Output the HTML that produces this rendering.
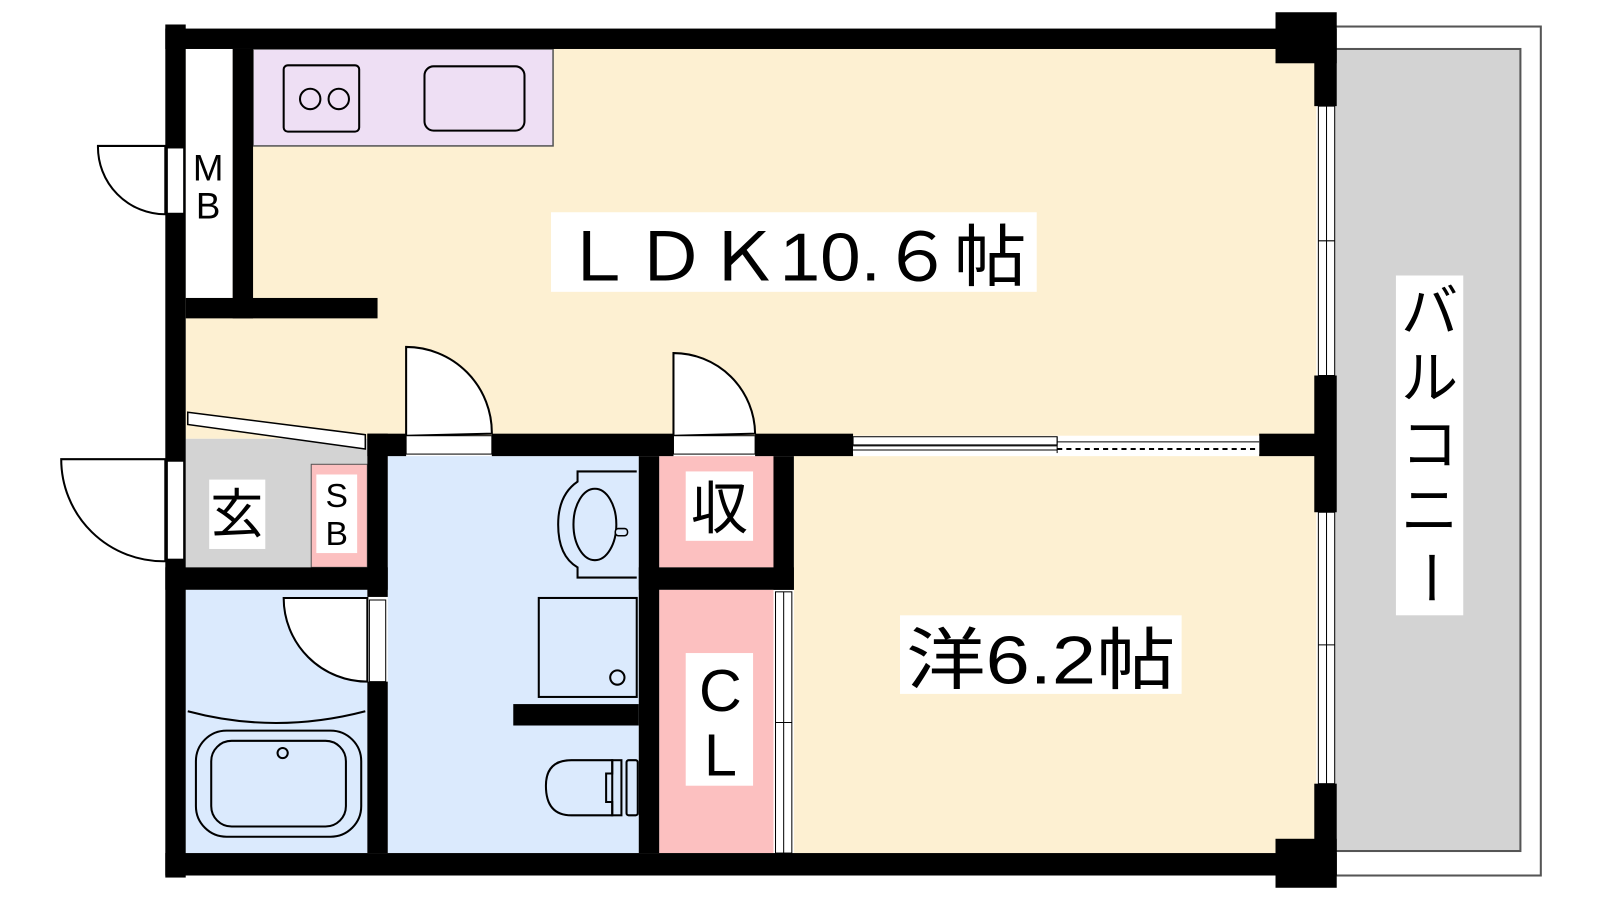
<!DOCTYPE html>
<html><head><meta charset="utf-8"><style>
html,body{margin:0;padding:0;background:#fff;width:1600px;height:900px;overflow:hidden}
svg{display:block}
text{font-family:"Liberation Sans","Noto Sans CJK JP",sans-serif;fill:#000}
</style></head><body>
<svg width="1600" height="900" viewBox="0 0 1568 882" preserveAspectRatio="none">
<!-- balcony -->
<rect x="1300" y="26" width="210" height="832" fill="#fff" stroke="#555" stroke-width="2"/>
<rect x="1300" y="48" width="190" height="786" fill="#d3d3d3" stroke="#555" stroke-width="2"/>
<!-- floors -->
<rect x="182" y="48" width="1108" height="382" fill="#fdf0d2"/>
<rect x="778" y="447" width="512" height="389" fill="#fdf0d2"/>
<rect x="182" y="48" width="46" height="244" fill="#fff"/>
<rect x="248" y="48" width="294" height="95" fill="#eedff4" stroke="#555" stroke-width="1.5"/>
<rect x="182" y="430" width="178" height="126" fill="#d3d3d3"/>
<rect x="305" y="455" width="55" height="101" fill="#fcc0c0" stroke="#555" stroke-width="1"/>
<rect x="182" y="578" width="178" height="258" fill="#dbeafd"/>
<rect x="380" y="447" width="246" height="389" fill="#dbeafd"/>
<rect x="646" y="447" width="112" height="109" fill="#fcc0c0"/>
<rect x="646" y="578" width="112" height="258" fill="#fcc0c0"/>
<!-- kitchen fixtures -->
<rect x="278" y="64" width="74" height="65" rx="4" fill="none" stroke="#000" stroke-width="2"/>
<circle cx="304" cy="97" r="10" fill="none" stroke="#000" stroke-width="2"/>
<circle cx="332" cy="97" r="10" fill="none" stroke="#000" stroke-width="2"/>
<rect x="416" y="65" width="98" height="63" rx="9" fill="none" stroke="#000" stroke-width="2"/>
<!-- walls -->
<g fill="#000">
<rect x="162" y="24" width="20" height="836"/>
<rect x="162" y="28" width="1130" height="20"/>
<rect x="1250" y="12" width="60" height="50"/>
<rect x="1288" y="28" width="22" height="76"/>
<rect x="1288" y="368" width="22" height="134"/>
<rect x="1288" y="768" width="22" height="90"/>
<rect x="1250" y="822" width="60" height="48"/>
<rect x="162" y="836" width="1148" height="22"/>
<rect x="228" y="48" width="20" height="264"/>
<rect x="182" y="292" width="188" height="20"/>
<rect x="360" y="425" width="38" height="22"/>
<rect x="482" y="425" width="178" height="22"/>
<rect x="740" y="425" width="96" height="22"/>
<rect x="1234" y="425" width="56" height="22"/>
<rect x="360" y="425" width="20" height="160"/>
<rect x="360" y="668" width="20" height="168"/>
<rect x="162" y="556" width="218" height="22"/>
<rect x="626" y="447" width="20" height="389"/>
<rect x="758" y="447" width="20" height="131"/>
<rect x="626" y="556" width="152" height="22"/>
<rect x="503" y="690" width="123" height="21"/>
</g>
<!-- windows right -->
<g fill="#fff" stroke="#000" stroke-width="1">
<rect x="1292" y="104" width="16" height="264"/>
<rect x="1292" y="502" width="16" height="266"/>
<rect x="760" y="580" width="16" height="256"/>
</g>
<g stroke="#000" stroke-width="1">
<line x1="1300" y1="104" x2="1300" y2="368"/><line x1="1292" y1="236" x2="1308" y2="236"/>
<line x1="1300" y1="502" x2="1300" y2="768"/><line x1="1292" y1="632" x2="1308" y2="632"/>
<line x1="768" y1="580" x2="768" y2="836"/><line x1="760" y1="708" x2="776" y2="708"/>
</g>
<!-- sliding door -->
<rect x="836" y="427" width="398" height="18" fill="#fff"/>
<rect x="836" y="428" width="200" height="8" fill="#fff" stroke="#000" stroke-width="1"/>
<line x1="836" y1="437" x2="1036" y2="437" stroke="#000" stroke-width="1"/>
<line x1="836" y1="441" x2="1036" y2="441" stroke="#000" stroke-width="1"/>
<line x1="1036" y1="433" x2="1234" y2="433" stroke="#000" stroke-width="1"/>
<line x1="1036" y1="440" x2="1234" y2="440" stroke="#000" stroke-width="2" stroke-dasharray="5,4"/>
<line x1="1036" y1="428" x2="1036" y2="444" stroke="#000" stroke-width="1"/>
<!-- doors -->
<g fill="#fff" stroke="#000" stroke-width="2">
<path d="M398 427 V340 A84 84 0 0 1 482 425 Z"/>
<rect x="398" y="427" width="84" height="18" stroke-width="1"/>
<path d="M660 427 V346 A80 80 0 0 1 740 425 Z"/>
<rect x="660" y="427" width="80" height="18" stroke-width="1"/>
<path d="M162 143 H96 A66 66 0 0 0 162 210 Z"/>
<rect x="164" y="145" width="16" height="64" stroke-width="1"/>
<path d="M162 450 H60 A100 100 0 0 0 162 550 Z"/>
<rect x="164" y="452" width="16" height="96" stroke-width="1"/>
<path d="M360 586 H278 A82 82 0 0 0 360 668 Z"/>
<rect x="362" y="588" width="16" height="80" stroke-width="1"/>
<polygon points="184,404 358,426 358,440 184,416" stroke-width="1.5"/>
</g>
<!-- bath -->
<path d="M184 697 Q270 720 358 697" fill="none" stroke="#000" stroke-width="2"/>
<rect x="192" y="716" width="162" height="104" rx="30" fill="none" stroke="#000" stroke-width="2"/>
<rect x="207" y="726" width="132" height="84" rx="20" fill="none" stroke="#000" stroke-width="2"/>
<circle cx="277" cy="738" r="5" fill="none" stroke="#000" stroke-width="2"/>
<!-- wash basin -->
<path d="M624 462 H566 V472 Q547 485 547 514 Q547 545 566 556 V566 H624" fill="none" stroke="#000" stroke-width="2"/>
<ellipse cx="583" cy="514" rx="21" ry="35" fill="none" stroke="#000" stroke-width="2"/>
<rect x="603" y="518" width="12" height="7" rx="3" fill="#dbeafd" stroke="#000" stroke-width="1.5"/>
<!-- washer -->
<rect x="528" y="586" width="96" height="97" fill="none" stroke="#000" stroke-width="2"/>
<circle cx="605" cy="664" r="7" fill="none" stroke="#000" stroke-width="2"/>
<!-- toilet -->
<path d="M600 745 H560 Q535 745 535 770 Q535 799 560 799 H600 V786 H594 V758 H600 Z" fill="none" stroke="#000" stroke-width="2"/>
<rect x="600" y="745" width="9" height="54" fill="none" stroke="#000" stroke-width="2"/>
<rect x="614" y="745" width="11" height="54" rx="2" fill="none" stroke="#000" stroke-width="2"/>
<!-- labels -->
<rect x="540" y="208" width="476" height="78" fill="#fff"/>
<text x="778" y="275" font-size="66" text-anchor="middle" textLength="456" lengthAdjust="spacingAndGlyphs">ＬＤＫ10.６帖</text>
<rect x="882" y="603" width="276" height="77" fill="#fff"/>
<text x="1020" y="670" font-size="66" text-anchor="middle" textLength="264" lengthAdjust="spacingAndGlyphs">洋6.2帖</text>
<rect x="1368" y="270" width="66" height="333" fill="#fff"/>
<g font-size="56" text-anchor="middle">
<text x="1401" y="325">バ</text><text x="1401" y="390">ル</text><text x="1401" y="455">コ</text><text x="1401" y="520">ニ</text>
<text x="1401" y="585" transform="rotate(90 1401 566)">ー</text></g>
<rect x="205" y="470" width="55" height="68" fill="#fff"/>
<text x="232" y="522" font-size="52" text-anchor="middle">玄</text>
<rect x="310" y="465" width="40" height="77" fill="#fff"/>
<text x="330" y="497" font-size="33" text-anchor="middle">S</text>
<text x="330" y="534" font-size="33" text-anchor="middle">B</text>
<rect x="184" y="145" width="42" height="75" fill="#fff"/>
<text x="204" y="177" font-size="36" text-anchor="middle">M</text>
<text x="204" y="214" font-size="36" text-anchor="middle">B</text>
<rect x="672" y="462" width="66" height="68" fill="#fff"/>
<text x="705" y="518" font-size="56" text-anchor="middle">収</text>
<rect x="672" y="640" width="66" height="130" fill="#fff"/>
<text x="706" y="697" font-size="58" text-anchor="middle">C</text>
<text x="706" y="760" font-size="58" text-anchor="middle">L</text>
</svg>
</body></html>
